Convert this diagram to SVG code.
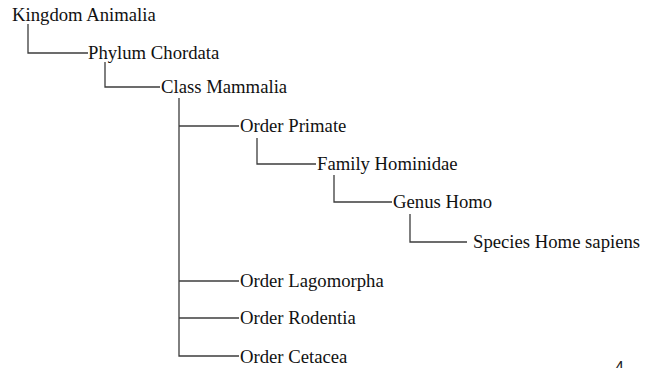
<svg xmlns="http://www.w3.org/2000/svg" width="646" height="368" viewBox="0 0 646 368">
  <style>
    .lbl { font-family: "Liberation Serif", "Times New Roman", serif; font-size: 18.7px; fill: #111; }
    .pg { font-family: "Liberation Sans", Arial, sans-serif; font-size: 16px; fill: #222; }
    .edge { fill: none; stroke: #3c3c3c; stroke-width: 1.3; }
  </style>
  <rect width="646" height="368" fill="#ffffff"/>

  <!-- elbow connectors from each parent to its children -->
  <g id="connectors">
    <path class="edge" d="M28,24 V53 H88"/>
    <path class="edge" d="M105,62 V87 H160"/>
    <path class="edge" d="M179,98 V356 H239"/>
    <path class="edge" d="M179,126 H239"/>
    <path class="edge" d="M179,281 H239"/>
    <path class="edge" d="M179,318 H239"/>
    <path class="edge" d="M257,138 V164 H316"/>
    <path class="edge" d="M334,175 V202 H392"/>
    <path class="edge" d="M410,214 V242 H467"/>
  </g>

  <g id="kingdom"><text class="lbl" x="12" y="21">Kingdom Animalia</text></g>
  <g id="phylum"><text class="lbl" x="88" y="59">Phylum Chordata</text></g>
  <g id="class"><text class="lbl" x="161" y="93">Class Mammalia</text></g>
  <g id="order-primate"><text class="lbl" x="240" y="132">Order Primate</text></g>
  <g id="family"><text class="lbl" x="317" y="170">Family Hominidae</text></g>
  <g id="genus"><text class="lbl" x="393" y="208">Genus Homo</text></g>
  <g id="species"><text class="lbl" x="473" y="248">Species Home sapiens</text></g>
  <g id="order-lagomorpha"><text class="lbl" x="240" y="287">Order Lagomorpha</text></g>
  <g id="order-rodentia"><text class="lbl" x="240" y="324">Order Rodentia</text></g>
  <g id="order-cetacea"><text class="lbl" x="240" y="363">Order Cetacea</text></g>

  <!-- page number, running off the bottom edge -->
  <text class="pg" x="615" y="373">4</text>
</svg>
